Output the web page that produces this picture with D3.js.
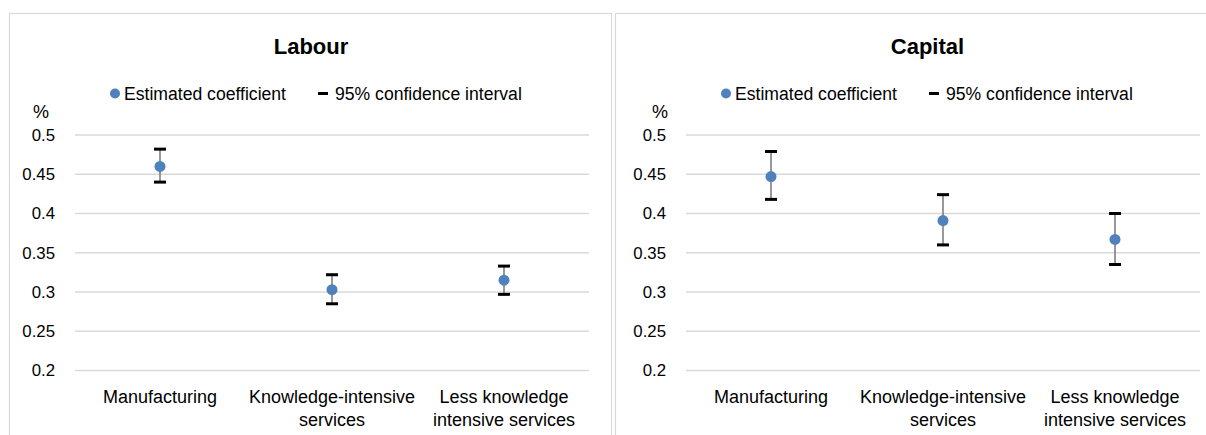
<!DOCTYPE html>
<html>
<head>
<meta charset="utf-8">
<script src="https://cdn.jsdelivr.net/npm/d3@7"></script>
<style>
  html, body { margin: 0; padding: 0; background: #fff; overflow: hidden; }
  svg { display: block; font-family: "Liberation Sans", Arial, sans-serif; }
</style>
</head>
<body>
<svg id="chart" width="1206" height="435"></svg>
<script>
// ---- Data ----
const categories = ["Manufacturing", "Knowledge-intensive services", "Less knowledge intensive services"];
const categoryLines = [["Manufacturing"], ["Knowledge-intensive", "services"], ["Less knowledge", "intensive services"]];

const labourCoef  = [0.460, 0.303, 0.315];
const labourLow   = [0.440, 0.285, 0.297];
const labourHigh  = [0.482, 0.322, 0.333];

const capitalCoef = [0.447, 0.391, 0.367];
const capitalLow  = [0.418, 0.360, 0.335];
const capitalHigh = [0.479, 0.424, 0.400];

const yTicks = [0.2, 0.25, 0.3, 0.35, 0.4, 0.45, 0.5];
const yTickLabels = ["0.2", "0.25", "0.3", "0.35", "0.4", "0.45", "0.5"];

const panelTitles = ["Labour", "Capital"];
const legendLabels = ["Estimated coefficient", "95% confidence interval"];
const unitLabel = "%";

// ---- Drawing ----
const svg = d3.select("#chart");
const pointColor = "#4f81bd";

const panels = [
  { title: panelTitles[0], coef: labourCoef, low: labourLow, high: labourHigh,
    box: [9.5, 13.5, 602, 440], dx: 0, pctX: 33 },
  { title: panelTitles[1], coef: capitalCoef, low: capitalLow, high: capitalHigh,
    box: [615.5, 13.5, 630, 440], dx: 611, pctX: 652 }
];

panels.forEach(p => {
  const g = svg.append("g");
  g.append("rect")
    .attr("x", p.box[0]).attr("y", p.box[1])
    .attr("width", p.box[2]).attr("height", p.box[3])
    .attr("fill", "#fff").attr("stroke", "#d9d9d9").attr("stroke-width", 1.2);

  const x = d3.scaleBand().domain(categories).range([74 + p.dx, 590 + p.dx]);
  const y = d3.scaleLinear().domain([0.2, 0.5]).range([370.5, 135]);

  // title
  g.append("text")
    .attr("x", p.box[0] + p.box[2] / 2 + (p.dx ? -3 : 0.5))
    .attr("y", 46)
    .attr("text-anchor", "middle").attr("dominant-baseline", "central")
    .attr("font-size", 22).attr("font-weight", "bold").attr("fill", "#000")
    .text(p.title);

  // legend
  const lg = g.append("g");
  lg.append("circle").attr("cx", 115 + p.dx).attr("cy", 93.5).attr("r", 5).attr("fill", pointColor);
  lg.append("text").attr("x", 124 + p.dx).attr("y", 93.5)
    .attr("dominant-baseline", "central").attr("font-size", 17.6).attr("fill", "#000")
    .text(legendLabels[0]);
  lg.append("rect").attr("x", 318 + p.dx).attr("y", 92).attr("width", 10).attr("height", 3).attr("fill", "#000");
  lg.append("text").attr("x", 335 + p.dx).attr("y", 93.5)
    .attr("dominant-baseline", "central").attr("font-size", 17.6).attr("fill", "#000")
    .text(legendLabels[1]);

  // unit label
  g.append("text").attr("x", p.pctX).attr("y", 112)
    .attr("dominant-baseline", "central").attr("font-size", 18).attr("fill", "#000")
    .text(unitLabel);

  // gridlines
  g.append("g").selectAll("line").data(yTicks).join("line")
    .attr("x1", 75 + p.dx).attr("x2", 589 + p.dx)
    .attr("y1", d => y(d)).attr("y2", d => y(d))
    .attr("stroke", "#d9d9d9").attr("stroke-width", 1.3);

  // y axis via d3.axisLeft (labels only)
  const yAxis = g.append("g")
    .attr("transform", `translate(${75 + p.dx},0)`)
    .call(d3.axisLeft(y).tickValues(yTicks).tickSize(0).tickPadding(20)
      .tickFormat((d, i) => yTickLabels[i]));
  yAxis.select(".domain").remove();
  yAxis.selectAll("text").attr("font-size", 16.8).attr("fill", "#000")
    .attr("font-family", "Liberation Sans, Arial, sans-serif");

  // x axis labels
  const xAxis = g.append("g").attr("transform", "translate(0,370.5)")
    .call(d3.axisBottom(x).tickSize(0).tickFormat(""));
  xAxis.select(".domain").remove();
  xAxis.selectAll(".tick").each(function(d, i) {
    const t = d3.select(this).append("text")
      .attr("text-anchor", "middle").attr("font-size", 18).attr("fill", "#000")
      .attr("font-family", "Liberation Sans, Arial, sans-serif");
    categoryLines[i].forEach((ln, j) => {
      t.append("tspan").attr("x", 0).attr("y", 26.5 + j * 23)
        .attr("dominant-baseline", "central").text(ln);
    });
  });

  // error bars and points
  const data = categories.map((c, i) => ({ c, v: p.coef[i], lo: p.low[i], hi: p.high[i] }));
  const cx = d => x(d.c) + x.bandwidth() / 2;
  const eg = g.append("g");
  eg.selectAll("line.whisker").data(data).join("line").attr("class", "whisker")
    .attr("x1", cx).attr("x2", cx)
    .attr("y1", d => y(d.lo)).attr("y2", d => y(d.hi))
    .attr("stroke", "#7f7f7f").attr("stroke-width", 1.6);
  ["lo", "hi"].forEach(k => {
    eg.selectAll("line.cap-" + k).data(data).join("line").attr("class", "cap-" + k)
      .attr("x1", d => cx(d) - 6).attr("x2", d => cx(d) + 6)
      .attr("y1", d => y(d[k])).attr("y2", d => y(d[k]))
      .attr("stroke", "#000").attr("stroke-width", 3);
  });
  eg.selectAll("circle").data(data).join("circle")
    .attr("cx", cx).attr("cy", d => y(d.v)).attr("r", 5.5)
    .attr("fill", pointColor);
});
</script>
</body>
</html>
